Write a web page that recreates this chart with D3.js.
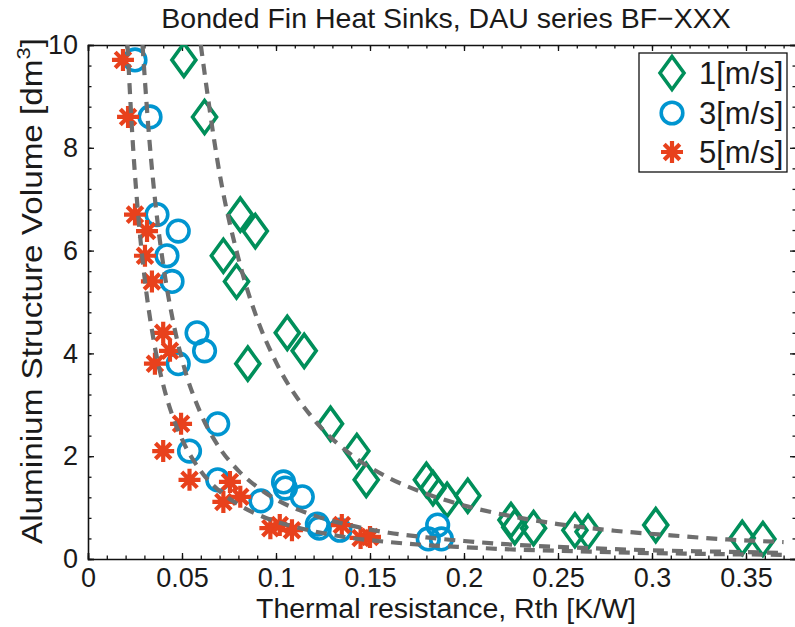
<!DOCTYPE html>
<html>
<head>
<meta charset="utf-8">
<script src="https://cdn.jsdelivr.net/npm/d3@7"></script>
<style>
  body { margin: 0; background: #fff; }
  text { font-family: "Liberation Sans", Arial, sans-serif; fill: #1a1a1a; }
</style>
</head>
<body>
<div id="chart"></div>
<script>
// measured points, 1 m/s
var rth1 = [0.051,0.062,0.081,0.089,0.072,0.079,0.085,0.106,0.115,0.129,0.143,0.148,0.180,0.1835,0.191,0.202,0.225,0.227,0.237,0.259,0.266,0.302,0.348,0.359];
var vol1 = [9.71,8.6,6.7,6.38,5.9,5.4,3.8,4.4,4.05,2.63,2.1,1.54,1.54,1.38,1.15,1.23,0.76,0.62,0.6,0.56,0.53,0.66,0.41,0.39];
// 3 m/s
var rth3 = [0.025,0.033,0.0367,0.048,0.042,0.0447,0.058,0.062,0.048,0.069,0.054,0.069,0.092,0.104,0.105,0.114,0.122,0.123,0.134,0.186,0.181,0.188];
var vol3 = [9.71,8.6,6.7,6.38,5.9,5.4,4.4,4.05,3.8,2.63,2.1,1.54,1.13,1.5,1.38,1.21,0.68,0.6,0.56,0.66,0.39,0.39];
// 5 m/s
var rth5 = [0.0186,0.0213,0.025,0.0314,0.0303,0.034,0.040,0.0436,0.0356,0.0495,0.040,0.054,0.0755,0.081,0.072,0.097,0.102,0.1085,0.135,0.145,0.150];
var vol5 = [9.71,8.6,6.7,6.38,5.9,5.4,4.4,4.05,3.8,2.63,2.1,1.54,1.5,1.21,1.11,0.6,0.66,0.56,0.66,0.41,0.43];

// dashed trend curves
var fitX1 = [0.06,0.07,0.08,0.09,0.10,0.12,0.14,0.16,0.18,0.20,0.22,0.25,0.28,0.31,0.34,0.37];
var fitV1 = [10,7.5,5.85,4.67,3.83,2.72,2.03,1.58,1.27,1.04,0.87,0.68,0.55,0.46,0.38,0.33];
var fitX3 = [0.029,0.032,0.035,0.04,0.045,0.05,0.06,0.07,0.08,0.09,0.10,0.12,0.14,0.16,0.18,0.20,0.23,0.26,0.30,0.34,0.37];
var fitV3 = [10,8.45,7.22,5.73,4.67,3.88,2.83,2.16,1.72,1.40,1.16,0.85,0.65,0.51,0.42,0.35,0.27,0.22,0.17,0.14,0.12];
var fitX5 = [0.021,0.024,0.027,0.03,0.035,0.04,0.045,0.05,0.06,0.07,0.08,0.09,0.10,0.12,0.14,0.16,0.18,0.20,0.23,0.26,0.30,0.34,0.37];
var fitV5 = [10,8.0,6.57,5.5,4.24,3.39,2.78,2.33,1.71,1.32,1.06,0.87,0.73,0.54,0.41,0.33,0.27,0.23,0.18,0.15,0.115,0.093,0.081];

var legendLabels = ['1[m/s]', '3[m/s]', '5[m/s]'];
var xTicks = [0, 0.05, 0.1, 0.15, 0.2, 0.25, 0.3, 0.35];
var yTicks = [0, 2, 4, 6, 8, 10];

var width = 795, height = 627;
var padLeft = 88, padRight = 796, padTop = 45, padBottom = 559;

var green = '#008f5a', blue = '#0095d0', red = '#e8411c', grey = '#6e6e6e';

var svg = d3.select('#chart')
	.append('svg')
	.attr('width', width)
	.attr('height', height);

var x = d3.scaleLinear()
	.domain([0, 0.3766])
	.range([padLeft, padRight]);

var y = d3.scaleLinear()
	.domain([0, 10])
	.range([padBottom, padTop]);

svg.append('clipPath').attr('id', 'plotclip')
	.append('rect')
	.attr('x', padLeft).attr('y', padTop)
	.attr('width', padRight - padLeft).attr('height', padBottom - padTop);

// axes, matlab style: inward ticks on all four sides
function fmt(d) { return d === 0 ? '0' : String(d); }
var xMinor = d3.range(0, 0.3766, 0.01);
var yMinor = d3.range(0, 10.001, 0.4);

function noDomain(g) { g.select('.domain').remove(); }

svg.append('g')
	.attr('transform', 'translate(0,' + padBottom + ')')
	.call(d3.axisBottom(x).tickValues(xMinor).tickSize(-3.5).tickFormat(''))
	.call(noDomain);
svg.append('g')
	.attr('transform', 'translate(0,' + padTop + ')')
	.call(d3.axisTop(x).tickValues(xMinor).tickSize(-3.5).tickFormat(''))
	.call(noDomain);
svg.append('g')
	.attr('transform', 'translate(' + padLeft + ',0)')
	.call(d3.axisLeft(y).tickValues(yMinor).tickSize(-3.5).tickFormat(''))
	.call(noDomain);
svg.append('g')
	.attr('transform', 'translate(' + padRight + ',0)')
	.call(d3.axisRight(y).tickValues(yMinor).tickSize(-3.5).tickFormat(''))
	.call(noDomain);

svg.append('g')
	.attr('transform', 'translate(0,' + padBottom + ')')
	.call(d3.axisBottom(x).tickValues(xTicks).tickSize(-6).tickPadding(9).tickFormat(fmt));
svg.append('g')
	.attr('transform', 'translate(0,' + padTop + ')')
	.call(d3.axisTop(x).tickValues(xTicks).tickSize(-6).tickFormat(''));
svg.append('g')
	.attr('transform', 'translate(' + padLeft + ',0)')
	.call(d3.axisLeft(y).tickValues(yTicks).tickSize(-6).tickPadding(10).tickFormat(fmt));
svg.append('g')
	.attr('transform', 'translate(' + padRight + ',0)')
	.call(d3.axisRight(y).tickValues(yTicks).tickSize(-6).tickFormat(''));

svg.selectAll('.tick line').attr('stroke', '#111').attr('stroke-width', 1.3);
svg.selectAll('.domain').attr('stroke', '#111').attr('stroke-width', 1.6);
svg.selectAll('.tick text').attr('font-size', 27).attr('fill', '#1a1a1a')
	.attr('font-family', '"Liberation Sans", Arial, sans-serif');

// markers
var plot = svg.append('g').attr('clip-path', 'url(#plotclip)');

function diamondPath(cx, cy) {
	var w = 12, h = 16.5;
	return 'M' + cx + ',' + (cy - h) + 'L' + (cx + w) + ',' + cy + 'L' + cx + ',' + (cy + h) + 'L' + (cx - w) + ',' + cy + 'Z';
}
function starPath(cx, cy) {
	var r = 11, p = '';
	for (var k = 0; k < 4; k++) {
		var a = k * Math.PI / 4;
		var dx = r * Math.cos(a), dy = r * Math.sin(a);
		p += 'M' + (cx - dx) + ',' + (cy - dy) + 'L' + (cx + dx) + ',' + (cy + dy);
	}
	return p;
}

plot.selectAll('.d1').data(d3.range(rth1.length)).enter()
	.append('path')
	.attr('d', function(i) { return diamondPath(x(rth1[i]), y(vol1[i])); })
	.attr('fill', 'none').attr('stroke', green).attr('stroke-width', 3.6);

plot.selectAll('.c3').data(d3.range(rth3.length)).enter()
	.append('circle')
	.attr('cx', function(i) { return x(rth3[i]); })
	.attr('cy', function(i) { return y(vol3[i]); })
	.attr('r', 10.8)
	.attr('fill', 'none').attr('stroke', blue).attr('stroke-width', 3.6);

plot.selectAll('.s5').data(d3.range(rth5.length)).enter()
	.append('path')
	.attr('d', function(i) { return starPath(x(rth5[i]), y(vol5[i])); })
	.attr('fill', 'none').attr('stroke', red).attr('stroke-width', 4.2);

// dashed trend curves
var line = d3.line()
	.x(function(d) { return x(d[0]); })
	.y(function(d) { return y(d[1]); })
	.curve(d3.curveMonotoneX);

[[fitX1, fitV1], [fitX3, fitV3], [fitX5, fitV5]].forEach(function(f) {
	plot.append('path')
		.attr('d', line(d3.zip(f[0], f[1])))
		.attr('fill', 'none')
		.attr('stroke', grey)
		.attr('stroke-width', 4.2)
		.attr('stroke-dasharray', '11,8');
});

// legend
var lg = svg.append('g');
lg.append('rect')
	.attr('x', 639).attr('y', 53)
	.attr('width', 148).attr('height', 119)
	.attr('fill', '#fff').attr('stroke', '#111').attr('stroke-width', 1.3);
var legY = [73, 113, 152];
lg.append('path').attr('d', diamondPath(672, legY[0]))
	.attr('fill', 'none').attr('stroke', green).attr('stroke-width', 3.6);
lg.append('circle').attr('cx', 672).attr('cy', legY[1]).attr('r', 10.8)
	.attr('fill', 'none').attr('stroke', blue).attr('stroke-width', 3.6);
lg.append('path').attr('d', starPath(672, legY[2]))
	.attr('fill', 'none').attr('stroke', red).attr('stroke-width', 4.2);
lg.selectAll('.lt').data(legendLabels).enter()
	.append('text')
	.attr('x', 699)
	.attr('y', function(d, i) { return legY[i] + 11; })
	.attr('font-size', 31)
	.text(function(d) { return d; });

// titles
svg.append('text')
	.attr('x', 446).attr('y', 28)
	.attr('text-anchor', 'middle')
	.attr('font-size', 28.5)
	.text('Bonded Fin Heat Sinks, DAU series BF\u2212XXX');

svg.append('text')
	.attr('x', 446).attr('y', 618)
	.attr('text-anchor', 'middle')
	.attr('font-size', 27)
	.attr('textLength', 380)
	.attr('lengthAdjust', 'spacingAndGlyphs')
	.text('Thermal resistance, Rth [K/W]');

var yl = svg.append('text')
	.attr('transform', 'translate(42,' + 291 + ') rotate(-90)')
	.attr('text-anchor', 'middle')
	.attr('font-size', 29)
	.attr('textLength', 506)
	.attr('lengthAdjust', 'spacingAndGlyphs');
yl.append('tspan').text('Aluminium Structure Volume [dm');
yl.append('tspan').attr('font-size', 19).attr('dy', -12).text('3');
yl.append('tspan').attr('dy', 12).text(']');
</script>
</body>
</html>
